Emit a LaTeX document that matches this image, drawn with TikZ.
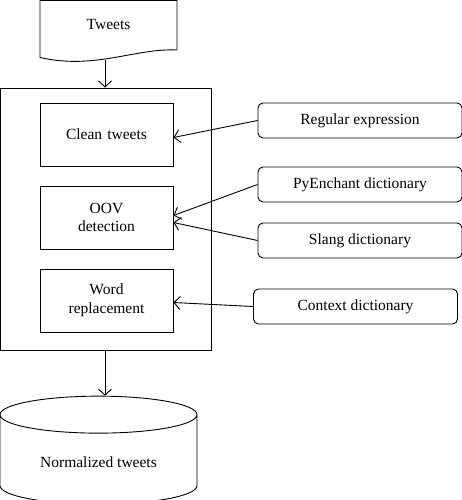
\documentclass[tikz,border=0pt]{standalone}
\usepackage{fontspec}
\setmainfont{Liberation Serif}
\usepackage{tikz}
\usetikzlibrary{shapes.geometric,arrows.meta}

\begin{document}
\begin{tikzpicture}[x=1pt, y=1pt, node distance=83pt, line width=0.9pt,
                    font=\fontsize{15.5}{18.5}\selectfont,
                    >={Straight Barb[length=6pt,width=13pt]},
                    block/.style={rectangle, draw, text width=125pt, text centered,
                    minimum width=133pt, minimum height=63pt, inner sep=2pt},
                    source/.style={rectangle, draw, rounded corners=5pt,
                    minimum width=204pt, minimum height=35pt}]
    \useasboundingbox (0,0) rectangle (462,-500);
    % input document
    \node (tweets) at (108.5,-25) {Tweets};
    \draw (40,-0.5) -- (177,-0.5) -- (177,-50)
          .. controls (135,-48) and (95,-70) .. (40,-57.5) -- cycle;
    \coordinate (tweetsend) at (105,-60.5);
    % normalisation steps
    \node [draw, minimum width=210.5pt, minimum height=262pt] (proc) at (105.75,-219) {};
    \node [block] (clean) at (106.5,-134.5) {Clean tweets};
    \node [block, below of=clean] (oov) {OOV\\detection};
    \node [block, below of=oov] (replace) {Word\\replacement};
    % resources
    \node [source] (regex) at (360,-120.5) {Regular expression};
    \node [source, below of=regex, yshift=19pt] (pyench) {PyEnchant dictionary};
    \node [source, below of=pyench, yshift=27pt] (slang) {Slang dictionary};
    \node [source, below of=slang, xshift=-4.5pt, yshift=17pt] (context) {Context dictionary};
    % output store
    \node [cylinder, draw, shape border rotate=90, aspect=0.3,
           minimum width=197pt, minimum height=108pt] (normal) at (98.5,-462) {Normalized tweets};

    \draw [->] (tweetsend) -- (proc.north -| tweetsend);
    \draw [->] (proc.south -| tweetsend) -- (normal.north -| tweetsend);
    \draw [->] (regex.west) -- ([yshift=-3pt]clean.east);
    \draw [->] (pyench.west) -- ([yshift=2pt]oov.east);
    \draw [->] (slang.west) -- ([yshift=-5pt]oov.east);
    \draw [->] (context.west) -- ([yshift=-2pt]replace.east);
\end{tikzpicture}
\end{document}
